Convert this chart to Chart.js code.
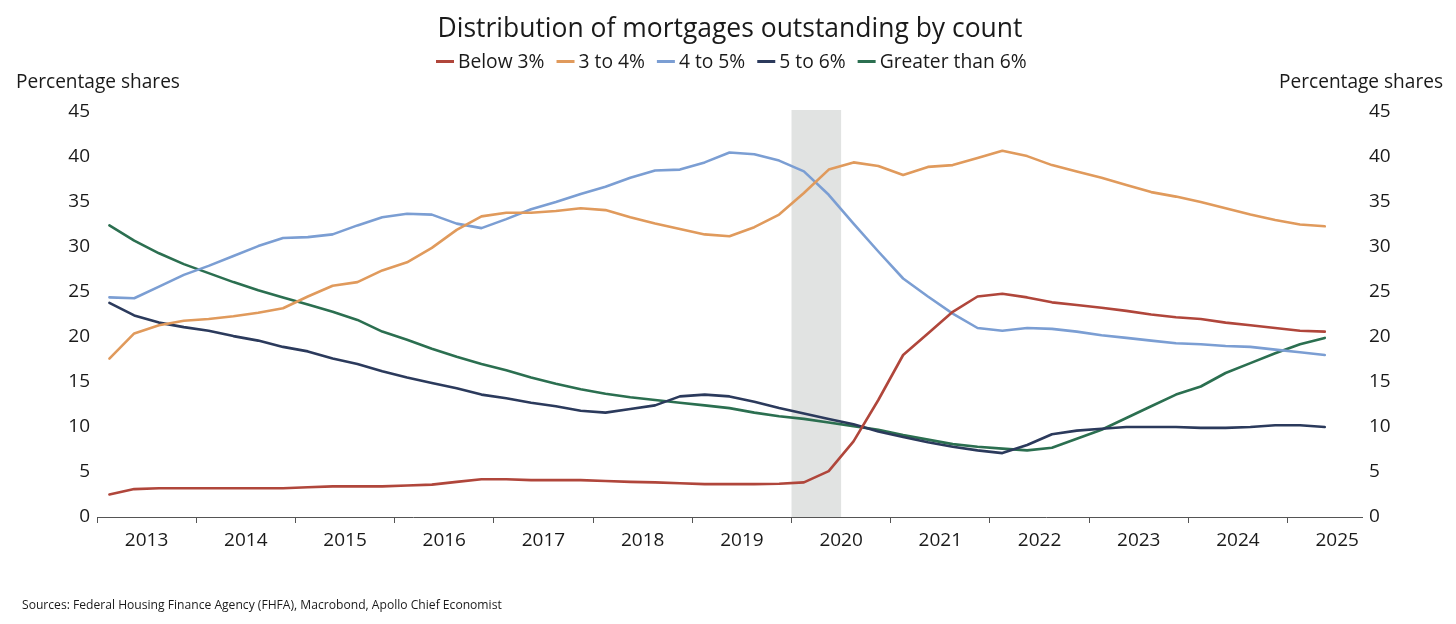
<!DOCTYPE html>
<html>
<head>
<meta charset="utf-8">
<script src="https://cdn.jsdelivr.net/npm/chart.js@4.4.1/dist/chart.umd.min.js"></script>
<style>
html,body{margin:0;padding:0;background:#ffffff;}
#wrap{position:relative;width:1456px;height:624px;}
</style>
</head>
<body>
<div id="wrap"><canvas id="c" width="1456" height="624"></canvas></div>
<script>
// ---------------- DATA ----------------
const quarters = [
  '2013Q1','2013Q2','2013Q3','2013Q4','2014Q1','2014Q2','2014Q3','2014Q4',
  '2015Q1','2015Q2','2015Q3','2015Q4','2016Q1','2016Q2','2016Q3','2016Q4',
  '2017Q1','2017Q2','2017Q3','2017Q4','2018Q1','2018Q2','2018Q3','2018Q4',
  '2019Q1','2019Q2','2019Q3','2019Q4','2020Q1','2020Q2','2020Q3','2020Q4',
  '2021Q1','2021Q2','2021Q3','2021Q4','2022Q1','2022Q2','2022Q3','2022Q4',
  '2023Q1','2023Q2','2023Q3','2023Q4','2024Q1','2024Q2','2024Q3','2024Q4',
  '2025Q1','2025Q2'
];
const below3 = [2.5,3.1,3.2,3.2,3.2,3.2,3.2,3.2,3.3,3.4,
  3.4,3.4,3.5,3.6,3.9,4.2,4.2,4.1,4.1,4.1,
  4.0,3.9,3.85,3.75,3.65,3.65,3.65,3.7,3.85,5.1,
  8.4,13.0,18.0,20.4,22.8,24.5,24.8,24.4,23.85,23.55,
  23.25,22.9,22.5,22.2,22.0,21.6,21.3,21.0,20.7,20.6];
const from3to4 = [17.6,20.4,21.3,21.8,22.0,22.3,22.7,23.2,24.5,25.7,
  26.1,27.4,28.3,29.9,31.9,33.4,33.8,33.8,34.0,34.3,
  34.1,33.3,32.6,32.0,31.4,31.2,32.2,33.6,36.0,38.6,
  39.4,39.0,38.0,38.9,39.1,39.9,40.7,40.1,39.1,38.4,
  37.7,36.9,36.1,35.6,35.0,34.3,33.6,33.0,32.5,32.3];
const from4to5 = [24.4,24.3,25.6,26.9,27.9,29.0,30.1,31.0,31.1,31.4,
  32.4,33.3,33.7,33.6,32.6,32.1,33.1,34.2,35.0,35.9,
  36.7,37.7,38.5,38.6,39.4,40.5,40.3,39.6,38.4,35.8,
  32.6,29.5,26.5,24.5,22.6,21.0,20.7,21.0,20.9,20.6,
  20.2,19.9,19.6,19.3,19.2,19.0,18.9,18.6,18.3,18.0];
const from5to6 = [23.8,22.4,21.6,21.1,20.7,20.1,19.6,18.9,18.4,17.6,
  17.0,16.2,15.5,14.9,14.3,13.6,13.2,12.7,12.3,11.8,
  11.6,12.0,12.4,13.4,13.6,13.4,12.8,12.1,11.5,10.9,
  10.3,9.5,8.9,8.3,7.8,7.4,7.1,8.0,9.2,9.6,
  9.8,10.0,10.0,10.0,9.9,9.9,10.0,10.2,10.2,10.0];
const above6 = [32.4,30.7,29.3,28.1,27.1,26.1,25.2,24.4,23.6,22.8,
  21.9,20.6,19.7,18.7,17.8,17.0,16.3,15.5,14.8,14.2,
  13.7,13.3,13.0,12.7,12.4,12.1,11.6,11.2,10.9,10.5,
  10.1,9.7,9.1,8.6,8.1,7.8,7.6,7.4,7.7,8.7,
  9.7,11.0,12.3,13.6,14.5,16.0,17.1,18.2,19.2,19.9];
const seriesNames = ['Below 3%','3 to 4%','4 to 5%','5 to 6%','Greater than 6%'];
const yearLabels = ['2013','2014','2015','2016','2017','2018','2019','2020','2021','2022','2023','2024','2025'];
const yTickValues = [0,5,10,15,20,25,30,35,40,45];
const recessionSpan = [2020.0, 2020.5];
const titleText = 'Distribution of mortgages outstanding by count';
const axisTitleText = 'Percentage shares';
const sourceText = 'Sources: Federal Housing Finance Agency (FHFA), Macrobond, Apollo Chief Economist';

// ---------------- STYLE ----------------
const FONT = '"Open Sans", "Noto Sans", "DejaVu Sans", sans-serif';
const TEXT = '#1a1a1a';
const colors = ['#b0463b', '#e09a5c', '#7b9ed3', '#2b3a5c', '#2b6f50'];
const seriesValues = [below3, from3to4, from4to5, from5to6, above6];

function quarterToX(q) {
  const y = parseInt(q.slice(0, 4), 10);
  const n = parseInt(q.slice(5), 10);
  return y + (n - 1) / 4 + 0.125;
}

const datasets = seriesNames.map((name, k) => ({
  label: name,
  data: seriesValues[k].map((v, i) => ({ x: quarterToX(quarters[i]), y: v })),
  borderColor: colors[k],
  backgroundColor: colors[k],
  borderWidth: 2.6,
  pointRadius: 0,
  tension: 0,
  borderJoinStyle: 'round',
  borderCapStyle: 'round',
  fill: false
}));

function fitSize(ctx, text, target, weight) {
  ctx.font = (weight || '') + ' 100px ' + FONT;
  return 100 * target / ctx.measureText(text).width;
}

const decor = {
  id: 'decor',
  beforeDatasetsDraw(chart) {
    const { ctx, chartArea, scales } = chart;
    const x0 = scales.x.getPixelForValue(recessionSpan[0]);
    const x1 = scales.x.getPixelForValue(recessionSpan[1]);
    const yTop = scales.y.getPixelForValue(45) - 2;
    ctx.save();
    ctx.fillStyle = '#e1e3e2';
    ctx.fillRect(x0, yTop, x1 - x0, chartArea.bottom - yTop);
    ctx.restore();
  },
  afterDraw(chart) {
    const { ctx, chartArea } = chart;
    ctx.save();
    ctx.fillStyle = TEXT;
    ctx.textBaseline = 'alphabetic';
    // Title
    const ts = fitSize(ctx, titleText, 585);
    ctx.font = ts + 'px ' + FONT;
    ctx.textAlign = 'center';
    ctx.fillText(titleText, 730, 37);
    // Legend
    const lineLen = 18, gap = 4, spacing = 12;
    ctx.font = '100px ' + FONT;
    let sum = 0;
    seriesNames.forEach(n => sum += ctx.measureText(n).width);
    const target = 591 - seriesNames.length * (lineLen + gap) - (seriesNames.length - 1) * spacing;
    const ls = 100 * target / sum;
    ctx.font = ls + 'px ' + FONT;
    ctx.textAlign = 'left';
    let x = 436;
    seriesNames.forEach((n, k) => {
      ctx.fillStyle = colors[k];
      ctx.fillRect(x, 60, lineLen, 3);
      x += lineLen + gap;
      ctx.fillStyle = TEXT;
      ctx.fillText(n, x, 68);
      x += ctx.measureText(n).width + spacing;
    });
    // Axis titles
    const as = fitSize(ctx, axisTitleText, 164);
    ctx.font = as + 'px ' + FONT;
    ctx.textAlign = 'left';
    ctx.fillText(axisTitleText, 16, 88);
    ctx.textAlign = 'right';
    ctx.fillText(axisTitleText, 1443, 88);
    // Source
    const ss = fitSize(ctx, sourceText, 480);
    ctx.font = ss + 'px ' + FONT;
    ctx.textAlign = 'left';
    ctx.fillText(sourceText, 22, 609);
    ctx.restore();
  }
};

const tickFont = { family: FONT, size: 19 };

const yAxisBase = {
  min: 0, max: 45,
  afterBuildTicks(scale) { scale.ticks = yTickValues.map(v => ({ value: v })); },
  grid: { display: false, drawTicks: false },
  border: { display: false },
  ticks: { font: tickFont, color: TEXT, padding: 7 }
};

new Chart(document.getElementById('c'), {
  type: 'line',
  data: { datasets },
  options: {
    responsive: false,
    animation: false,
    parsing: true,
    layout: { padding: { top: 112, bottom: 67, left: 0, right: 0 } },
    plugins: { legend: { display: false }, title: { display: false }, tooltip: { enabled: false } },
    scales: {
      x: {
        type: 'linear',
        min: 2013, max: 2025.75,
        afterBuildTicks(scale) { scale.ticks = yearLabels.map(l => ({ value: parseInt(l, 10) })); },
        afterFit(scale) { scale.height = 40; },
        grid: { display: true, drawOnChartArea: false, drawTicks: true, tickLength: 6, color: '#555555', lineWidth: 1 },
        border: { display: true, color: '#555555', width: 1 },
        ticks: {
          font: tickFont, color: TEXT, padding: 6, autoSkip: false, maxRotation: 0,
          labelOffset: 49.6,
          callback: (v) => { const l = yearLabels.find(s => parseInt(s, 10) === v); return l === undefined ? '' : l; }
        }
      },
      y: Object.assign({}, yAxisBase, { position: 'left', afterFit(scale) { scale.width = 97; } }),
      y2: Object.assign({}, yAxisBase, { position: 'right', afterFit(scale) { scale.width = 94; } })
    }
  },
  plugins: [decor]
});
</script>
</body>
</html>
